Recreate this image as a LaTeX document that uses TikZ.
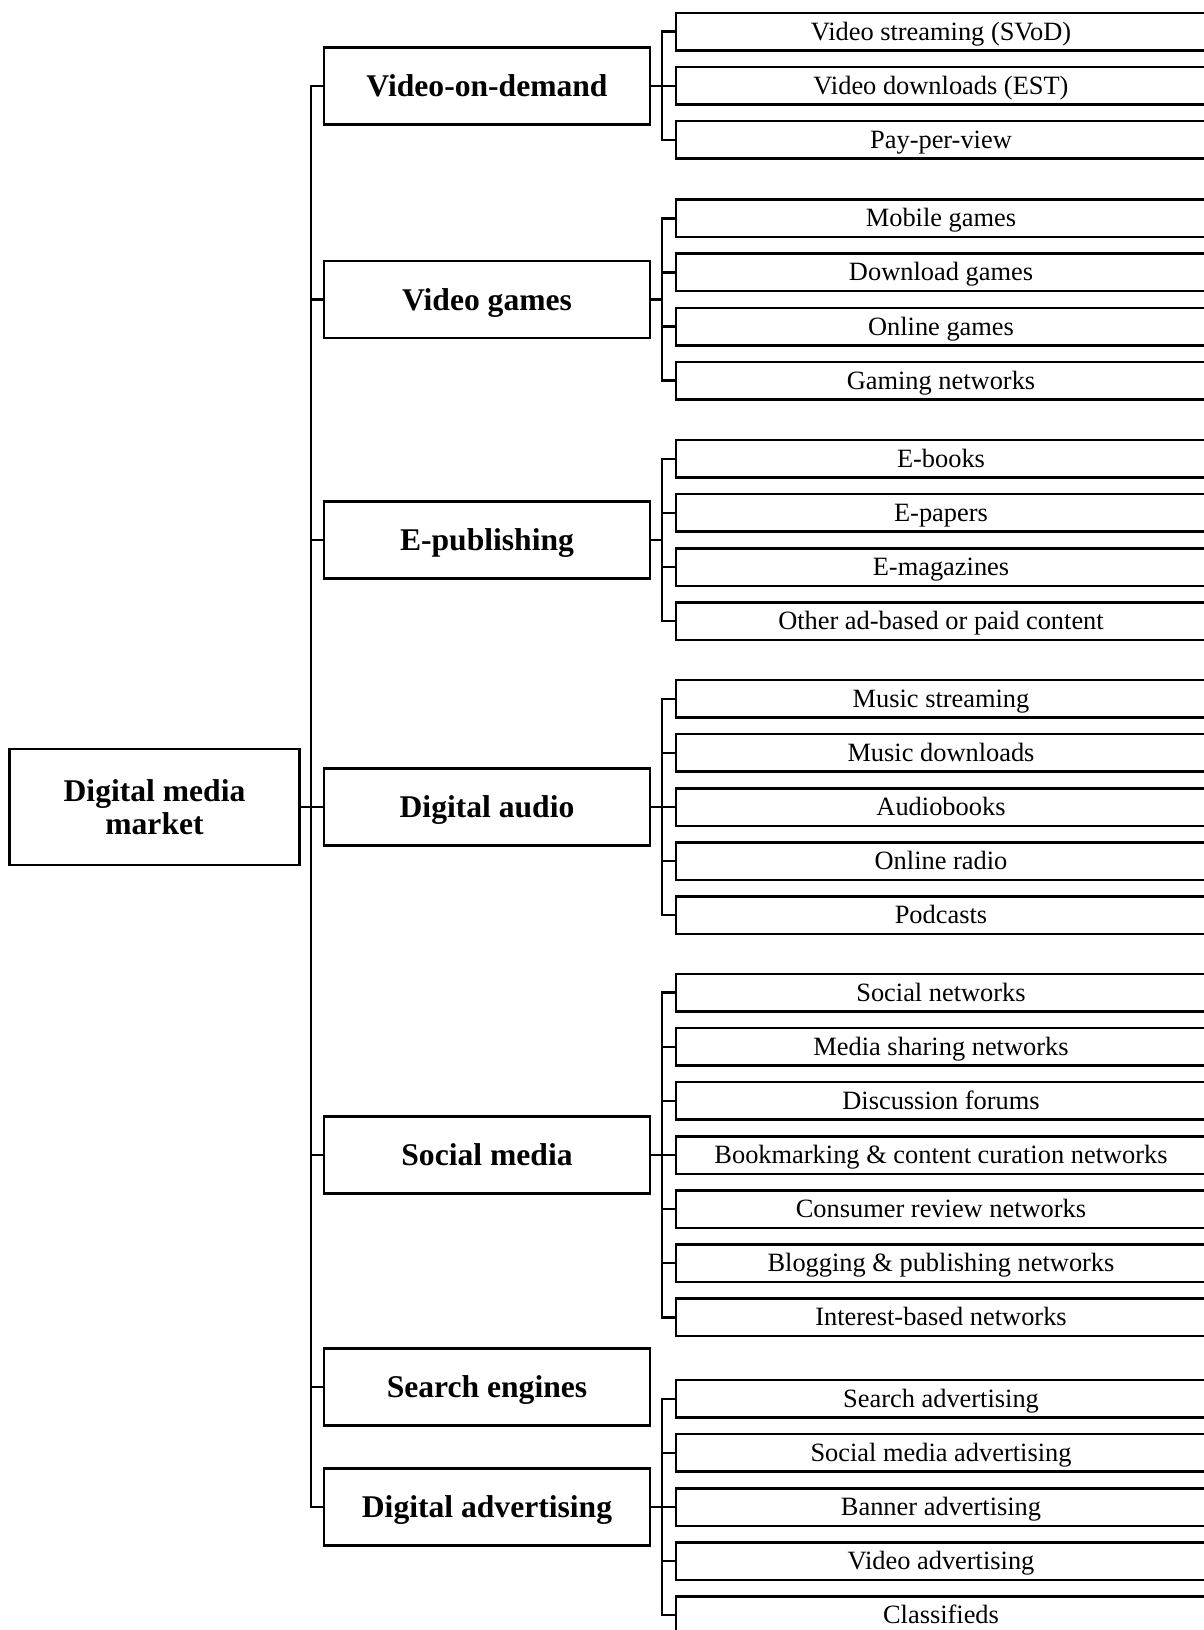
\documentclass[tikz,border=0pt]{standalone}
\usepackage{fontspec}
\setmainfont{Liberation Serif}
\usetikzlibrary{positioning}

\begin{document}
\begin{tikzpicture}[
  x=1pt, y=-1pt,
  node distance=16.6pt,
  rootbox/.style={
    draw, outer sep=0pt, inner sep=2pt, align=center,
    line width=2.5pt,
    minimum width=290pt, minimum height=116pt,
    font=\fontsize{31.6}{33}\selectfont\bfseries
  },
  catbox/.style={
    draw, outer sep=0pt, inner sep=2pt,
    line width=2.5pt,
    minimum width=326pt, minimum height=77pt,
    text height=22pt, text depth=1pt,
    font=\fontsize{31.6}{33}\selectfont\bfseries
  },
  leafbox/.style={
    draw, outer sep=0pt, inner sep=1pt,
    line width=2.5pt,
    minimum width=530pt, minimum height=37.5pt,
    text height=20pt, text depth=3pt,
    font=\fontsize{26.4}{30}\selectfont
  },
  link/.style={line width=2.5pt}
]
\useasboundingbox (0,0) rectangle (1203,1630);

% root and categories
\node[rootbox] (root) at (154.5,807) {Digital media\\market};

\node[catbox] (vod)    at (487,85.8) {Video-on-demand};
\node[catbox] (games)  at (487,299.5) {Video games};
\node[catbox] (epub)   at (487,540) {E-publishing};
\node[catbox] (audio)  at (487,807) {Digital audio};
\node[catbox] (social) at (487,1155) {Social media};
\node[catbox] (search) at (487,1387) {Search engines};
\node[catbox] (adv)    at (487,1507) {Digital advertising};

% leaves
\node[leafbox] (svod) at (941,31.7) {Video streaming (SVoD)};
\node[leafbox, below=of svod] (est) {Video downloads (EST)};
\node[leafbox, below=of est] (ppv) {Pay-per-view};

\node[leafbox] (mobile) at (941,218.35) {Mobile games};
\node[leafbox, below=of mobile] (dlgames) {Download games};
\node[leafbox, below=of dlgames] (online) {Online games};
\node[leafbox, below=of online] (gamingnet) {Gaming networks};

\node[leafbox] (ebooks) at (941,458.85) {E-books};
\node[leafbox, below=of ebooks] (epapers) {E-papers};
\node[leafbox, below=of epapers] (emags) {E-magazines};
\node[leafbox, below=of emags] (otherpub) {Other ad-based or paid content};

\node[leafbox] (mstream) at (941,698.8) {Music streaming};
\node[leafbox, below=of mstream] (mdl) {Music downloads};
\node[leafbox, below=of mdl] (abooks) {Audiobooks};
\node[leafbox, below=of abooks] (radio) {Online radio};
\node[leafbox, below=of radio] (podcasts) {Podcasts};

\node[leafbox] (socnet) at (941,992.7) {Social networks};
\node[leafbox, below=of socnet] (mshare) {Media sharing networks};
\node[leafbox, below=of mshare] (forums) {Discussion forums};
\node[leafbox, below=of forums] (bookmark) {Bookmarking \& content curation networks};
\node[leafbox, below=of bookmark] (review) {Consumer review networks};
\node[leafbox, below=of review] (blog) {Blogging \& publishing networks};
\node[leafbox, below=of blog] (interest) {Interest-based networks};

\node[leafbox] (searchad) at (941,1398.8) {Search advertising};
\node[leafbox, below=of searchad] (socad) {Social media advertising};
\node[leafbox, below=of socad] (banner) {Banner advertising};
\node[leafbox, below=of banner] (videoad) {Video advertising};
\node[leafbox, below=of videoad] (classif) {Classifieds};

% trunk
\coordinate (trunk) at ([xshift=11.5pt]root.east);
\draw[link] (root.east) -- (trunk);
\draw[link] (vod.west) -| (trunk) |- (adv.west);
\draw[link] (games.west) -- (games.west -| trunk);
\draw[link] (epub.west) -- (epub.west -| trunk);
\draw[link] (audio.west) -- (audio.west -| trunk);
\draw[link] (social.west) -- (social.west -| trunk);
\draw[link] (search.west) -- (search.west -| trunk);

% forks to leaves
\coordinate (vodfork) at ([xshift=12pt]vod.east);
\draw[link] (vod.east) -- (vodfork);
\draw[link] (svod.west) -| (vodfork) |- (ppv.west);
\draw[link] (est.west) -- (est.west -| vodfork);

\coordinate (gamesfork) at ([xshift=12pt]games.east);
\draw[link] (games.east) -- (gamesfork);
\draw[link] (mobile.west) -| (gamesfork) |- (gamingnet.west);
\draw[link] (dlgames.west) -- (dlgames.west -| gamesfork)
  (online.west) -- (online.west -| gamesfork);

\coordinate (epubfork) at ([xshift=12pt]epub.east);
\draw[link] (epub.east) -- (epubfork);
\draw[link] (ebooks.west) -| (epubfork) |- (otherpub.west);
\draw[link] (epapers.west) -- (epapers.west -| epubfork)
  (emags.west) -- (emags.west -| epubfork);

\coordinate (audiofork) at ([xshift=12pt]audio.east);
\draw[link] (audio.east) -- (audiofork);
\draw[link] (mstream.west) -| (audiofork) |- (podcasts.west);
\draw[link] (mdl.west) -- (mdl.west -| audiofork)
  (abooks.west) -- (abooks.west -| audiofork)
  (radio.west) -- (radio.west -| audiofork);

\coordinate (socialfork) at ([xshift=12pt]social.east);
\draw[link] (social.east) -- (socialfork);
\draw[link] (socnet.west) -| (socialfork) |- (interest.west);
\draw[link] (mshare.west) -- (mshare.west -| socialfork)
  (forums.west) -- (forums.west -| socialfork)
  (bookmark.west) -- (bookmark.west -| socialfork)
  (review.west) -- (review.west -| socialfork)
  (blog.west) -- (blog.west -| socialfork);

\coordinate (advfork) at ([xshift=12pt]adv.east);
\draw[link] (adv.east) -- (advfork);
\draw[link] (searchad.west) -| (advfork) |- (classif.west);
\draw[link] (socad.west) -- (socad.west -| advfork)
  (banner.west) -- (banner.west -| advfork)
  (videoad.west) -- (videoad.west -| advfork);

\end{tikzpicture}
\end{document}
